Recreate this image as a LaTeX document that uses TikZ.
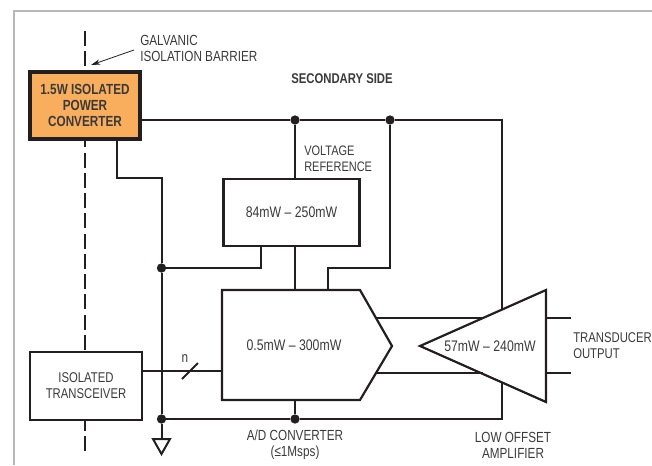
\documentclass[tikz,border=0pt]{standalone}
\usepackage{fontspec}
\setmainfont[FakeStretch=0.80]{Liberation Sans}
\usetikzlibrary{arrows.meta}
\definecolor{ink}{HTML}{231F20}
\definecolor{txt}{HTML}{3A3A3A}
\definecolor{amber}{HTML}{F9AE5D}
\definecolor{rule}{HTML}{B8B8B8}
\tikzset{
  wire/.style={draw=ink,line width=1.5pt,line cap=butt,line join=miter},
  outline/.style={draw=ink,line width=1.65pt,line join=miter},
  blockbox/.style={draw=ink,line width=1.65pt,fill=white,inner sep=0pt,text=txt,align=center,font=\fontsize{10.6}{12}\selectfont},
  label/.style={text=txt,inner sep=0pt,font=\fontsize{11}{12}\selectfont},
  leftlabel/.style={label,align=left,anchor=west},
  midlabel/.style={label,align=center},
  powerlabel/.style={midlabel,font=\fontsize{11.5}{12}\selectfont},
  dot/.style={circle,fill=ink,draw=none,minimum size=7pt,inner sep=0pt},
  barrier/.style={draw=ink,line width=1.5pt,dash pattern=on 11.2pt off 4pt},
}
\begin{document}
\begin{tikzpicture}[x=0.75pt,y=-0.75pt]
\useasboundingbox (0,0) rectangle (652,465);
\draw[rule,line width=0.9pt] (14,465) -- (14,11) -- (652,11);
% isolation barrier
\coordinate (bt) at (84.5,31);
\coordinate (bb) at (84.5,455);
\draw[barrier] (bt) -- (bb);
% blocks
\node[blockbox,fill=amber,line width=3pt,minimum width=83pt,minimum height=50.5pt,font=\fontsize{11}{11.8}\selectfont\bfseries] (pwr) at (85,105.5) {1.5W ISOLATED\\POWER\\CONVERTER};
\node[blockbox,minimum width=83.5pt,minimum height=50.5pt] (xcvr) at (86,386) {ISOLATED\\TRANSCEIVER};
\node[blockbox,minimum width=102pt,minimum height=50pt,font=\fontsize{11.5}{12}\selectfont] (vref) at (291.5,212.5) {84mW – 250mW};
% nodes for junctions
\node[dot] (j1) at (295,120) {};
\node[dot] (j2) at (390,120) {};
\node[dot] (j3) at (161.5,268) {};
\node[dot] (j4) at (161.5,419) {};
\node[dot] (j5) at (295,419) {};
% corner coordinates
\coordinate (c1) at (502,120);
\coordinate (c2) at (502,419);
\coordinate (pb) at (117,178);
\coordinate (pc) at (161.5,178);
\coordinate (gt) at (161.5,439);
\coordinate (vl) at (261,268);
\coordinate (r1) at (390,268);
\coordinate (r2) at (328,268);
\coordinate (adct) at (328,290);
\coordinate (adcv) at (295,290);
\coordinate (adcb) at (295,400);
\coordinate (adcl) at (222,371);
\coordinate (a1) at (377,318);
\coordinate (a2) at (377,373);
\coordinate (b1) at (483,318);
\coordinate (b2) at (483,373);
\coordinate (o1) at (546,318);
\coordinate (o2) at (546,373);
\coordinate (e1) at (571,318);
\coordinate (e2) at (571,373);
\coordinate (amp1) at (502,309);
\coordinate (amp2) at (502,383);
% connectors
\draw[wire] (pwr.east |- j1) -- (j1) -- (j2) -- (c1) -- (amp1);
\draw[wire] (j1) -- (j1 |- vref.north);
\draw[wire] (j1 |- vref.south) -- (adcv);
\draw[wire] (j2) -- (r1) -- (r2) -- (adct);
\draw[wire] (pwr.south -| pb) -- (pb) -- (pc) -- (j3) -- (j4) -- (gt);
\draw[wire] (vref.south -| vl) -- (vl) -- (j3);
\draw[wire] (j4) -- (j5) -- (c2) -- (amp2);
\draw[wire] (adcb) -- (j5);
\draw[wire] (xcvr.east |- adcl) -- (adcl);
\draw[wire] (a1) -- (b1);
\draw[wire] (a2) -- (b2);
\draw[wire] (o1) -- (e1);
\draw[wire] (o2) -- (e2);
% ADC and amplifier outlines
\draw[outline] (222,290) -- (360,290) -- (392,346) -- (360,400) -- (222,400) -- cycle;
\draw[outline] (420,346) -- (546,290) -- (546,402) -- cycle;
% bus slash
\coordinate (s1) at (182,379);
\coordinate (s2) at (198,363);
\draw[wire,line width=1.4pt] (s1) -- (s2);
% ground
\draw[wire] (153,439) -- (170,439) -- (161.5,454) -- cycle;
% barrier arrow
\coordinate (ar1) at (134,50);
\coordinate (ar2) at (91,65);
\draw[draw=ink,line width=0.6pt,-{Stealth[length=7pt,width=4pt]}] (ar1) -- (ar2);
% labels
\node[leftlabel] (t1) at (140,48) {GALVANIC\\ISOLATION BARRIER};
\node[midlabel,font=\fontsize{10.6}{12}\selectfont\bfseries] (t2) at (342,79) {SECONDARY SIDE};
\node[leftlabel,font=\fontsize{10.3}{12}\selectfont] (t3) at (304,159) {VOLTAGE\\REFERENCE};
\node[powerlabel] (t4) at (294,345) {0.5mW – 300mW};
\node[powerlabel] (t5) at (490,346) {57mW – 240mW};
\node[midlabel] (t6) at (295,445) {A/D CONVERTER\\(≤1Msps)};
\node[midlabel] (t7) at (513,445) {LOW OFFSET\\AMPLIFIER};
\node[leftlabel,font=\fontsize{10.6}{12}\selectfont] (t8) at (573,346) {TRANSDUCER\\OUTPUT};
\node[midlabel] (t9) at (185,359) {n};
\end{tikzpicture}
\end{document}
